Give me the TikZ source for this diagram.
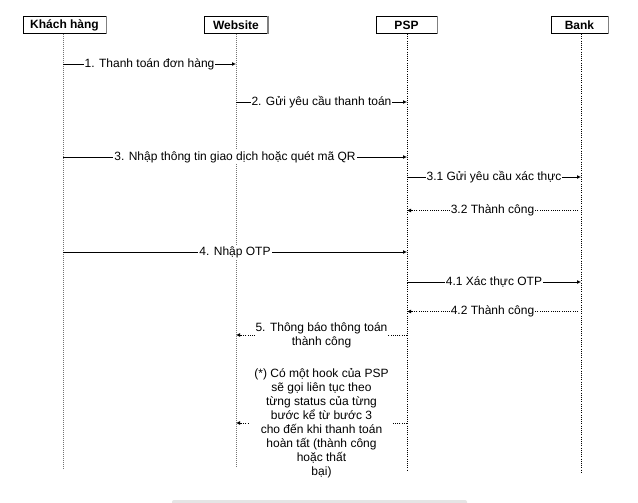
\documentclass[tikz,border=0pt]{standalone}
\usepackage{fontspec}
\setmainfont{Liberation Sans}
\usetikzlibrary{arrows.meta}
\begin{document}
\begin{tikzpicture}[x=1pt,y=-1pt,
  actor/.style={draw=black,line width=0.8pt,fill=white,inner sep=0pt,font=\fontsize{12}{14}\selectfont\bfseries},
  lifeA/.style={draw=black!55,line width=1pt,dash pattern=on 1pt off 1pt},
  lifeB/.style={draw=black,line width=0.8pt,dash pattern=on 1pt off 1.2pt},
  msg/.style={draw=black,line width=0.9pt,-{Latex[length=4pt,width=4pt]}},
  ret/.style={draw=black,line width=0.8pt,dash pattern=on 1pt off 1.2pt,-{Latex[length=4pt,width=4pt]}},
  lbl/.style={fill=white,inner sep=1pt,font=\fontsize{12}{14}\selectfont,align=center}]
\useasboundingbox (0,0) rectangle (638,503);
\fill[white] (0,0) rectangle (638,503);
% actors
\node[actor,minimum width=83pt,minimum height=17pt] (kh) at (64.5,25) {Khách hàng};
\node[actor,minimum width=63pt,minimum height=17pt] (web) at (236,25) {Website};
\node[actor,minimum width=61pt,minimum height=17pt] (psp) at (406.5,25) {PSP};
\node[actor,minimum width=57pt,minimum height=17pt] (bank) at (579.5,25) {Bank};
\foreach \n in {kh,web,psp,bank}{\draw[black!50,line width=1.2pt] (\n.north east) -- (\n.south east);}
% lifeline ends
\coordinate (khE) at (63,470);
\coordinate (webE) at (236,468);
\coordinate (pspE) at (407,470);
\coordinate (bankE) at (581,473);
\coordinate (khT) at (63,34);
\coordinate (webT) at (236,34);
\coordinate (pspT) at (407,34);
\coordinate (bankT) at (581,34);
\draw[lifeA] (khT) -- (khE);
\draw[lifeA] (webT) -- (webE);
\draw[lifeB] (pspT) -- (pspE);
\draw[lifeB] (bankT) -- (bankE);
% message endpoints
\coordinate (a1) at (63,64);   \coordinate (b1) at (236,64);
\coordinate (a2) at (236,102); \coordinate (b2) at (407,102);
\coordinate (a3) at (63,157);  \coordinate (b3) at (407,157);
\coordinate (a31) at (407,177); \coordinate (b31) at (581,177);
\coordinate (a32) at (578,210.5); \coordinate (b32) at (407,210.5);
\coordinate (a4) at (63,252);  \coordinate (b4) at (407,252);
\coordinate (a41) at (407,282); \coordinate (b41) at (581,282);
\coordinate (a42) at (578,311.5); \coordinate (b42) at (407,311.5);
\coordinate (a5) at (407,335); \coordinate (b5) at (236,335);
\coordinate (a6) at (407,423); \coordinate (b6) at (236,423);
\draw[msg] (a1) -- node[lbl] (m1) {1. Thanh toán đơn hàng} (b1);
\draw[msg] (a2) -- node[lbl] (m2) {2. Gửi yêu cầu thanh toán} (b2);
\draw[msg] (a3) -- node[lbl] (m3) {3. Nhập thông tin giao dịch hoặc quét mã QR} (b3);
\draw[msg] (a31) -- node[lbl] (m31) {3.1 Gửi yêu cầu xác thực} (b31);
\draw[ret] (a32) -- node[lbl] (m32) {3.2 Thành công} (b32);
\draw[msg] (a4) -- node[lbl] (m4) {4. Nhập OTP} (b4);
\draw[msg] (a41) -- node[lbl] (m41) {4.1 Xác thực OTP} (b41);
\draw[ret] (a42) -- node[lbl] (m42) {4.2 Thành công} (b42);
\draw[ret] (a5) -- node[lbl] (m5) {5. Thông báo thông toán\\thành công} (b5);
\draw[ret] (a6) -- node[lbl,fill=white,inner xsep=4pt] (m6) {(*) Có một hook của PSP\\sẽ gọi liên tục theo\\từng status của từng\\bước kể từ bước 3\\cho đến khi thanh toán\\hoàn tất (thành công\\hoặc thất\\bại)} (b6);
% bottom scrollbar
\fill[black!10,rounded corners=2pt] (172,500) rectangle (467,506);
\end{tikzpicture}
\end{document}
